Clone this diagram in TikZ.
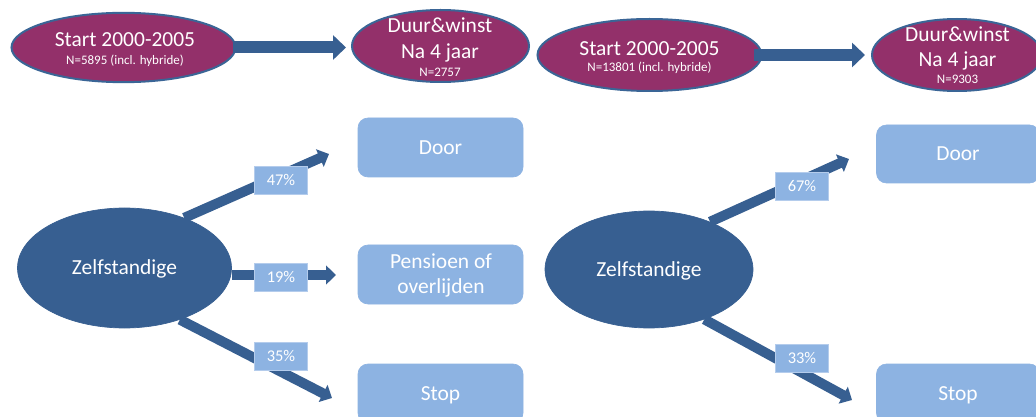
\documentclass[tikz,border=0pt]{standalone}
\usepackage{fontspec}
\setmainfont{Carlito}
\usetikzlibrary{arrows.meta,shapes.geometric}
\definecolor{plum}{HTML}{93306A}
\definecolor{navy}{HTML}{375F91}
\definecolor{ringblue}{HTML}{3A6596}
\definecolor{sky}{HTML}{8DB3E2}
\definecolor{skyedge}{HTML}{B4CCEC}
\begin{document}
\begin{tikzpicture}[x=0.75pt,y=-0.75pt,
  topell/.style={ellipse, draw=ringblue, line width=1.5pt, fill=plum, inner sep=0pt},
  zell/.style={ellipse, fill=navy, draw=navy, line width=0.5pt, inner sep=0pt, text=white,
    font=\fontsize{16.1}{19}\selectfont, text height=10.4pt, text depth=0pt},
  outbox/.style={rounded corners=7.5pt, fill=sky, draw=sky, line width=0.5pt, inner sep=0pt,
    minimum width=123.75pt, minimum height=44.25pt, text=white,
    font=\fontsize{16.1}{19}\selectfont, text height=10.4pt, text depth=0pt},
  pct/.style={rectangle, fill=sky, draw=skyedge, line width=0.6pt, inner sep=0pt,
    minimum width=39.75pt, minimum height=21pt, text=white,
    font=\fontsize{12.3}{14}\selectfont, text height=7.8pt, text depth=0pt},
  bigtxt/.style={text=white, font=\fontsize{16.1}{19}\selectfont, anchor=base, inner sep=0pt},
  smalltxt/.style={text=white, font=\fontsize{9.75}{12}\selectfont, anchor=base, inner sep=0pt},
  bigarrow/.style={draw=navy, line width=9pt, -{Triangle[width=18pt,length=9.75pt]}},
  flow/.style={draw=navy, line width=7.5pt, -{Triangle[width=14pt,length=7.5pt]}}
]
\fill[white] (0,0) rectangle (1036,417);
\useasboundingbox (0,0) rectangle (1036,417);

% top row, left
\node[topell, minimum width=168pt, minimum height=52pt] (s1) at (123.5,47.5) {};
\node[bigtxt] (s1a) at (125,47) {Start 2000-2005};
\node[smalltxt] (s1b) at (125,64.5) {N=5895 (incl. hybride)};
\node[topell, minimum width=132.75pt, minimum height=54pt] (d1) at (440.5,46) {};
\node[bigtxt] (d1a) at (440,33) {Duur\&winst};
\node[bigtxt] (d1b) at (440,59) {Na 4 jaar};
\node[smalltxt] (d1c) at (440,77) {N=2757};
\draw[bigarrow, shorten <=-3pt, shorten >=3.75pt] (s1.east) -- (s1.east -| d1.west);

% top row, right
\node[topell, minimum width=168pt, minimum height=54pt] (s2) at (649.5,55) {};
\node[bigtxt] (s2a) at (649.5,56) {Start 2000-2005};
\node[smalltxt] (s2b) at (649.5,71.5) {N=13801 (incl. hybride)};
\node[topell, minimum width=127.5pt, minimum height=54pt] (d2) at (957,55) {};
\node[bigtxt] (d2a) at (957.5,42) {Duur\&winst};
\node[bigtxt] (d2b) at (957.5,67) {Na 4 jaar};
\node[smalltxt] (d2c) at (957.5,84) {N=9303};
\draw[bigarrow, shorten <=-6.4pt, shorten >=4.5pt] (s2.east) -- (s2.east -| d2.west);

% lower left
\node[zell, minimum width=160.5pt, minimum height=90pt] (z1) at (124.5,268) {Zelfstandige};
\node[outbox] (door1) at (440.5,147.5) {Door};
\node[outbox] (pens1) at (440.5,274.5) {};
\node[bigtxt] (pens1a) at (441,269) {Pensioen of};
\node[bigtxt] (pens1b) at (441,294) {overlijden};
\node[outbox] (stop1) at (440.5,393.5) {Stop};
\coordinate (t1a) at (329,154);
\coordinate (t1b) at (336,275);
\coordinate (t1c) at (332,398);
\draw[flow] (z1.40.5) -- (t1a);
\draw[flow] (z1.east |- t1b) -- (t1b);
\draw[flow] (z1.-43.6) -- (t1c);
\node[pct] (p47) at (281,180) {47\%};
\node[pct] (p19) at (281,277) {19\%};
\node[pct] (p35) at (281,356.5) {35\%};

% lower right
\node[zell, minimum width=156pt, minimum height=87.75pt] (z2) at (649,269.5) {Zelfstandige};
\node[outbox, minimum width=122.25pt, minimum height=43.5pt] (door2) at (958,154) {Door};
\node[outbox, minimum width=122.25pt] (stop2) at (958,393.5) {Stop};
\coordinate (t2a) at (849,159);
\coordinate (t2b) at (852,400);
\draw[flow] (z2.38.2) -- (t2a);
\draw[flow] (z2.-42.5) -- (t2b);
\node[pct] (p67) at (802,186) {67\%};
\node[pct] (p33) at (802,358) {33\%};
\end{tikzpicture}
\end{document}
